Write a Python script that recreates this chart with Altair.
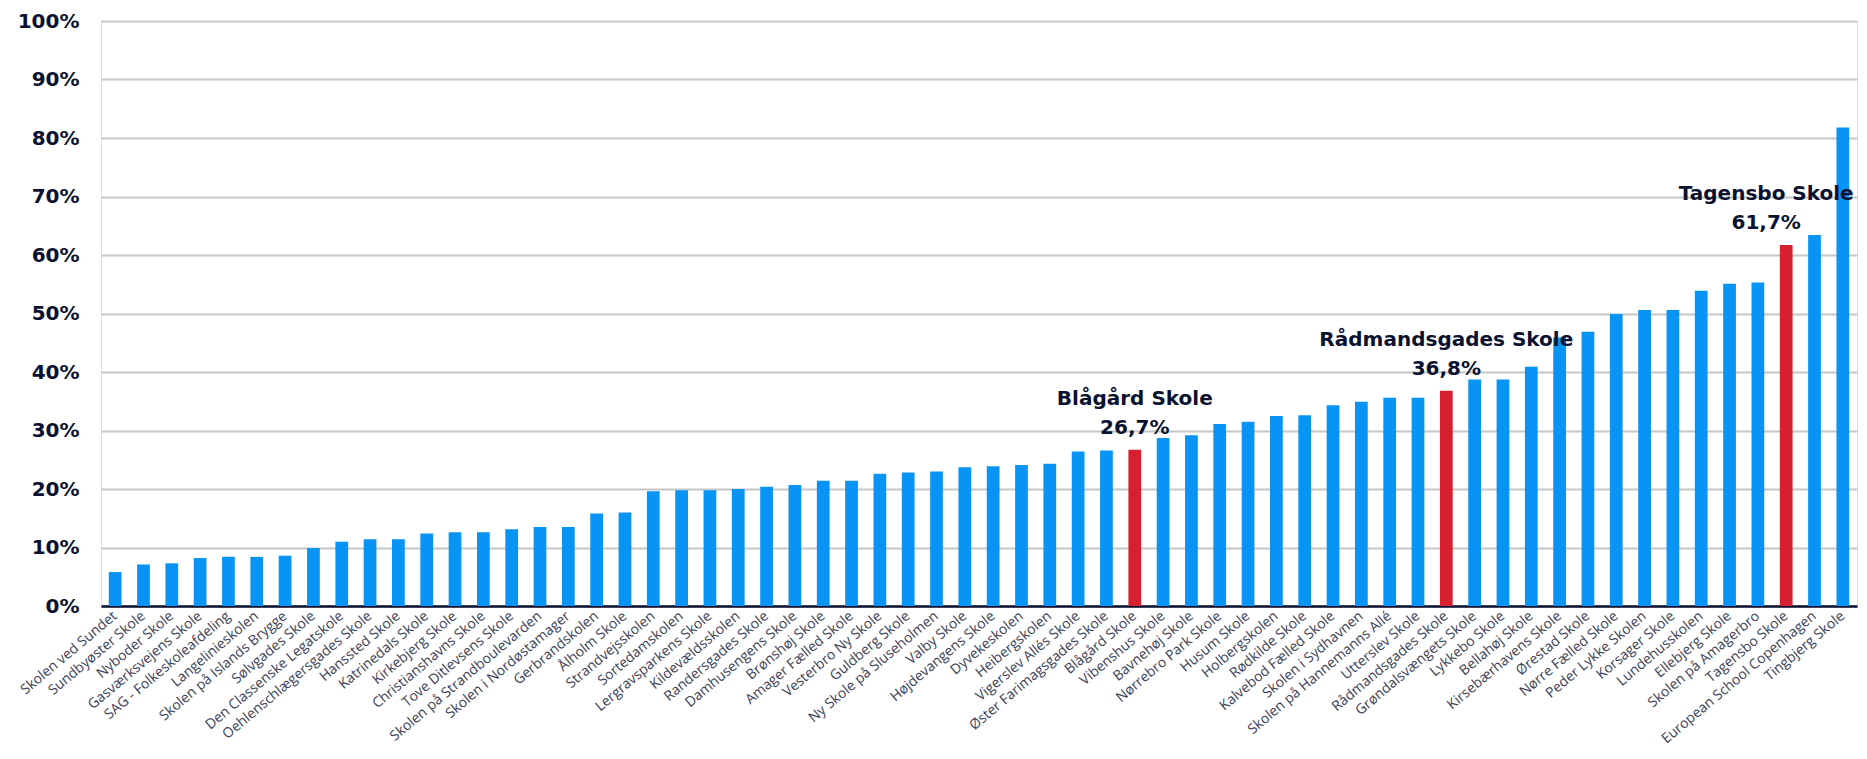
import altair as alt
import pandas as pd

skoler = [
    "Skolen ved Sundet", "Sundbyøster Skole", "Nyboder Skole", "Gasværksvejens Skole",
    "SAG - Folkeskoleafdeling", "Langelinieskolen", "Skolen på Islands Brygge", "Sølvgades Skole",
    "Den Classenske Legatskole", "Oehlenschlægersgades Skole", "Hanssted Skole", "Katrinedals Skole",
    "Kirkebjerg Skole", "Christianshavns Skole", "Tove Ditlevsens Skole", "Skolen på Strandboulevarden",
    "Skolen i Nordøstamager", "Gerbrandskolen", "Ålholm Skole", "Strandvejsskolen",
    "Sortedamskolen", "Lergravsparkens Skole", "Kildevældsskolen", "Randersgades Skole",
    "Damhusengens Skole", "Brønshøj Skole", "Amager Fælled Skole", "Vesterbro Ny Skole",
    "Guldberg Skole", "Ny Skole på Sluseholmen", "Valby Skole", "Højdevangens Skole",
    "Dyvekeskolen", "Heibergskolen", "Vigerslev Allés Skole", "Øster Farimagsgades Skole",
    "Blågård Skole", "Vibenshus Skole", "Bavnehøj Skole", "Nørrebro Park Skole",
    "Husum Skole", "Holbergskolen", "Rødkilde Skole", "Kalvebod Fælled Skole",
    "Skolen i Sydhavnen", "Skolen på Hannemanns Allé", "Utterslev Skole", "Rådmandsgades Skole",
    "Grøndalsvængets Skole", "Lykkebo Skole", "Bellahøj Skole", "Kirsebærhavens Skole",
    "Ørestad Skole", "Nørre Fælled Skole", "Peder Lykke Skolen", "Korsager Skole",
    "Lundehusskolen", "Ellebjerg Skole", "Skolen på Amagerbro", "Tagensbo Skole",
    "European School Copenhagen", "Tingbjerg Skole",
]

andel = [
    5.8, 7.1, 7.3, 8.2,
    8.4, 8.4, 8.6, 9.9,
    11.0, 11.4, 11.4, 12.4,
    12.6, 12.6, 13.1, 13.5,
    13.5, 15.8, 16.0, 19.6,
    19.8, 19.8, 20.0, 20.4,
    20.7, 21.4, 21.4, 22.6,
    22.8, 23.0, 23.7, 23.9,
    24.1, 24.3, 26.4, 26.6,
    26.7, 28.7, 29.2, 31.1,
    31.5, 32.5, 32.6, 34.3,
    34.9, 35.6, 35.6, 36.8,
    38.7, 38.7, 40.9, 45.9,
    46.9, 49.9, 50.6, 50.6,
    53.9, 55.1, 55.3, 61.7,
    63.4, 81.8,
]

fremhaevet = ["Blågård Skole", "Rådmandsgades Skole", "Tagensbo Skole"]
y_ticks = [0, 10, 20, 30, 40, 50, 60, 70, 80, 90, 100]

df = pd.DataFrame({"skole": skoler, "andel": andel})
df["farve"] = ["rød" if s in fremhaevet else "blå" for s in skoler]
df["etiket"] = [
    f"{s}\n{str(v).replace('.', ',')}%" if s in fremhaevet else "" for s, v in zip(skoler, andel)
]

x_enc = alt.X(
    "skole:N",
    sort=skoler,
    title=None,
    scale=alt.Scale(domain=skoler, paddingInner=0.55, paddingOuter=0.275),
    axis=alt.Axis(
        labelAngle=-40,
        labelAlign="right",
        labelBaseline="middle",
        labelFont="Open Sans",
        labelFontSize=14,
        labelColor="#3c4159",
        labelPadding=8,
        ticks=False,
        domainColor="#0b1130",
        domainWidth=2.5,
        labelOverlap=False,
        labelLimit=400,
    ),
)
y_enc = alt.Y(
    "andel:Q",
    title=None,
    scale=alt.Scale(domain=[0, 100], nice=False),
    axis=alt.Axis(
        values=y_ticks,
        labelExpr="datum.value + '%'",
        labelFont="DejaVu Sans",
        labelFontWeight="bold",
        labelFontSize=20,
        labelColor="#0b1130",
        labelPadding=22,
        ticks=False,
        domain=False,
        gridColor="#c6c6c6",
        gridWidth=2,
    ),
)

bars = alt.Chart(df).mark_bar().encode(
    x=x_enc,
    y=y_enc,
    color=alt.Color(
        "farve:N",
        scale=alt.Scale(domain=["blå", "rød"], range=["#0894f4", "#d7202f"]),
        legend=None,
    ),
)

text_base = alt.Chart(df).encode(x=x_enc, y=y_enc, text=alt.Text("etiket:N"))
tekst_stil = dict(
    lineBreak="\n", baseline="alphabetic", align="center", dy=-45,
    font="DejaVu Sans", fontWeight="bold", fontSize=20, color="#0b1130", lineHeight=29,
)
tekst1 = text_base.transform_filter(
    "datum.farve == 'rød' && datum.skole != 'Tagensbo Skole'"
).mark_text(**tekst_stil)
tekst2 = text_base.transform_filter("datum.skole == 'Tagensbo Skole'").mark_text(
    dx=-20, **tekst_stil
)

chart = (
    alt.layer(bars, tekst1, tekst2)
    .properties(
        width=1756,
        height=585,
        autosize=alt.AutoSizeParams(type="none"),
        padding={"left": 93, "top": 13, "right": 2, "bottom": 145},
    )
    .configure_view(strokeWidth=0)
    .configure(background="white")
)

chart.save("out.html", embed_options={"renderer": "svg", "actions": False})
